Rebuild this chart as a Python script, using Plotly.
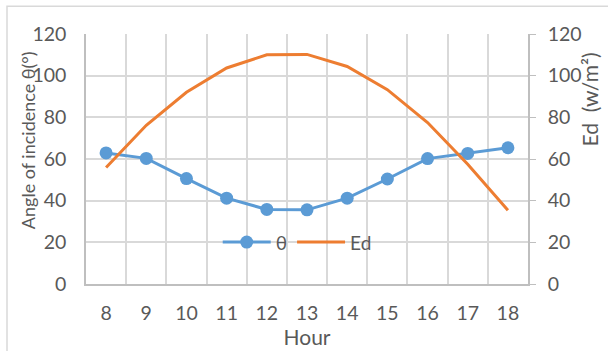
import plotly.graph_objects as go

hours = [8, 9, 10, 11, 12, 13, 14, 15, 16, 17, 18]
theta = [62.9, 60.3, 50.6, 41.2, 35.8, 35.6, 41.2, 50.4, 60.2, 62.7, 65.4]
ed = [55.9, 76.2, 92.0, 103.7, 110.0, 110.2, 104.4, 93.3, 77.5, 57.5, 35.4]

BLUE = "#5b9bd5"
ORANGE = "#ed7d31"
TXT = "#595959"
GRID = "#d9d9d9"
AX = "#bfbfbf"
FONT = "Lato, Liberation Sans, sans-serif"

fig = go.Figure()
fig.add_trace(go.Scatter(x=hours, y=theta, name="θ", mode="lines+markers",
                         line=dict(color=BLUE, width=3),
                         marker=dict(color=BLUE, size=13)))
fig.add_trace(go.Scatter(x=hours, y=ed, name="Ed", mode="lines",
                         line=dict(color=ORANGE, width=3), yaxis="y2"))

fig.update_layout(
    width=608, height=351,
    margin=dict(l=86, r=80, t=34, b=65),
    paper_bgcolor="white", plot_bgcolor="white",
    font=dict(family=FONT, color=TXT, size=19),
    showlegend=True,
    legend=dict(orientation="h", x=0.298, y=0.167, xanchor="left", yanchor="middle",
                bgcolor="rgba(0,0,0,0)", font=dict(size=19, color=TXT),
                itemwidth=48, tracegroupgap=0),
    xaxis=dict(range=[7.5, 18.5], tickvals=hours, ticktext=[str(h) for h in hours],
               showgrid=False, showline=True, linecolor=AX, linewidth=1.5,
               ticks="", zeroline=False, ticklabelstandoff=11,
               minor=dict(tick0=7.5, dtick=1, showgrid=True, gridcolor=GRID, gridwidth=1.5, ticks=""),
               title=dict(text="Hour", font=dict(size=21, color=TXT), standoff=0),
               tickfont=dict(size=19.5, color=TXT)),
    yaxis=dict(range=[0, 120], dtick=20, showgrid=True, gridcolor=GRID, gridwidth=1.5,
               showline=True, linecolor=AX, linewidth=1.5, ticks="", zeroline=False,
               ticklabelstandoff=14, tickfont=dict(size=19.5, color=TXT)),
    yaxis2=dict(range=[0, 120], dtick=20, overlaying="y", side="right", showgrid=False,
                showline=True, linecolor=AX, linewidth=1.5, ticks="outside", ticklen=6,
                tickcolor=AX, zeroline=False, ticklabelstandoff=8,
                tickfont=dict(size=19.5, color=TXT)),
)

fig.add_annotation(text="Angle of incidence θ(°)", xref="paper", yref="paper",
                   x=(28 - 86) / 442, y=(286 - 141) / 252, textangle=-90,
                   showarrow=False, xanchor="center", yanchor="middle",
                   font=dict(size=18, color=TXT))
fig.add_annotation(text="Ed  (w/m²)", xref="paper", yref="paper",
                   x=(589 - 86) / 442, y=(286 - 100) / 252, textangle=-90,
                   showarrow=False, xanchor="center", yanchor="middle",
                   font=dict(size=21, color=TXT))

fig.add_shape(type="rect", xref="paper", yref="paper",
              x0=(7 - 86) / 442, x1=(612 - 86) / 442,
              y0=(286 - 355) / 252, y1=(286 - 6) / 252,
              line=dict(color="#d9d9d9", width=1.5), fillcolor="rgba(0,0,0,0)", layer="below")

fig.write_html("out.html")
